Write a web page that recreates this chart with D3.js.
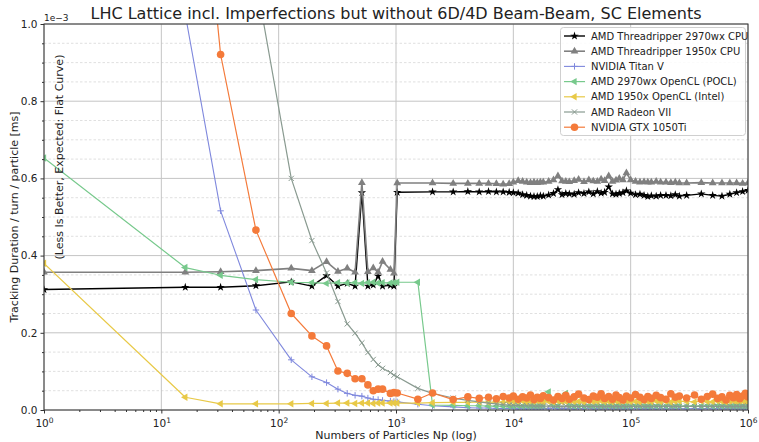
<!DOCTYPE html>
<html>
<head>
<meta charset="utf-8">
<script src="https://cdn.jsdelivr.net/npm/d3@7"></script>
<style>
  body { margin: 0; background: #fff; }
  text { font-family: "DejaVu Sans", sans-serif; fill: #222; }
</style>
</head>
<body>
<svg id="chart" width="759" height="442"></svg>
<script>
// number of particles (shared sample grid), values are in units of 1e-3 ms
const particles = [
  1, 16, 32, 64, 128, 192, 256, 320, 384, 448, 512, 576, 640, 704, 768, 896, 960, 1024,
  1536, 2048, 3072, 4096, 5120, 6144, 7168, 8192, 9216,
  10000, 11000, 12000, 13000, 14000, 15000, 16000, 17000, 18000,
  20000, 22000, 24000, 26000, 28000, 30000,
  33000, 36000, 40000, 44000, 48000, 52000, 56000, 60000,
  65000, 70000, 75000, 80000, 86000, 92000,
  100000, 110000, 120000, 130000, 140000, 150000,
  165000, 180000, 200000, 220000, 240000, 260000,
  300000, 350000, 400000, 450000, 500000, 550000, 600000, 650000, 700000, 750000,
  800000, 850000, 900000, 950000, 1000000
];

const cpu2970 = [
  0.312, 0.318, 0.318, 0.322, 0.332, 0.321, 0.348, 0.321, 0.328, 0.321, 0.563, 0.321, 0.324, 0.347, 0.321, 0.323, 0.321, 0.564,
  null, 0.565, 0.565, 0.566, 0.565, 0.566, 0.565, 0.565, 0.564,
  0.563, 0.562, 0.558, 0.556, 0.554, 0.553, 0.553, 0.555, 0.554,
  0.557, 0.561, 0.571, 0.558, 0.561, 0.560,
  0.559, 0.563, 0.561, 0.565, 0.560, 0.566, 0.562, 0.564,
  0.578, 0.560, 0.559, 0.561, 0.563, 0.568,
  0.562, 0.558, 0.559, 0.556, 0.553, 0.555,
  0.554, 0.556, 0.556, 0.555, 0.558, 0.554,
  0.556, null, 0.560, null, 0.556, null, 0.554, null, 0.559, null,
  0.563, null, 0.566, null, 0.569
];

const cpu1950 = [
  0.357, 0.357, 0.358, 0.361, 0.367, 0.361, 0.384, 0.359, 0.367, 0.357, 0.589, 0.358, 0.368, 0.357, 0.385, 0.364, 0.354, 0.588,
  null, 0.588, 0.587, 0.587, 0.587, 0.587, 0.586, 0.585, 0.586,
  0.590, 0.594, 0.592, 0.590, 0.589, 0.590, 0.589, 0.590, 0.590,
  0.592, 0.596, 0.606, 0.593, 0.592, 0.591,
  0.594, 0.597, 0.591, 0.596, 0.593, 0.592, 0.598, 0.594,
  0.606, 0.592, 0.595, 0.600, 0.596, 0.614,
  0.596, 0.592, 0.590, 0.591, 0.590, 0.590,
  0.592, 0.590, 0.590, 0.589, 0.590, 0.588,
  0.588, null, 0.589, null, 0.588, null, 0.588, null, 0.588, null,
  0.588, null, 0.587, null, 0.588
];

const titanV = [
  null, 1.025, 0.516, 0.259, 0.130, 0.086, 0.071, 0.054, 0.043, 0.038, 0.036, 0.031, 0.028, 0.027, 0.025, 0.023, 0.022, 0.021,
  0.015, 0.011, 0.008, 0.006, 0.005, 0.005, 0.004, 0.004, 0.004,
  0.004, 0.003, 0.004, 0.003, 0.004, 0.003, 0.004, 0.003, 0.004,
  0.003, 0.005, 0.003, 0.004, 0.003, 0.004,
  0.003, 0.004, 0.003, 0.005, 0.003, 0.004, 0.003, 0.004,
  0.003, 0.004, 0.003, 0.004, 0.003, 0.004,
  0.003, 0.004, 0.003, 0.004, 0.003, 0.004,
  0.003, 0.004, 0.003, 0.004, 0.003, 0.004,
  0.003, 0.004, 0.003, 0.004, 0.003, 0.004, 0.003, 0.004, 0.003, 0.004,
  0.003, 0.004, 0.003, 0.004, 0.003
];

const pocl2970 = [
  0.653, 0.369, 0.349, 0.338, 0.331, 0.330, 0.328, 0.330, 0.329, 0.330, 0.328, 0.330, 0.331, 0.329, 0.330, 0.329, 0.330, 0.331,
  0.331, 0.013, 0.012, 0.011, 0.011, 0.010, 0.010, 0.010, 0.010,
  0.010, 0.011, 0.010, 0.011, 0.010, 0.011, 0.010, 0.011, 0.012,
  0.047, 0.012, 0.011, 0.022, 0.043, 0.011,
  0.010, 0.011, 0.010, 0.011, 0.010, 0.011, 0.010, 0.011,
  0.010, 0.011, 0.010, 0.011, 0.010, 0.011,
  0.010, 0.011, 0.010, 0.011, 0.010, 0.011,
  0.010, 0.011, 0.010, 0.011, 0.010, 0.011,
  0.010, 0.011, 0.010, 0.011, 0.010, 0.011, 0.010, 0.011, 0.010, 0.011,
  0.010, 0.011, 0.010, 0.011, 0.010
];

const intel1950 = [
  0.380, 0.033, 0.016, 0.016, 0.016, 0.017, 0.017, 0.018, 0.018, 0.017, 0.018, 0.018, 0.017, 0.018, 0.018, 0.018, 0.018, 0.018,
  0.018, 0.019, 0.020, 0.020, 0.021, 0.020, 0.021, 0.020, 0.021,
  0.022, 0.021, 0.023, 0.020, 0.022, 0.021, 0.023, 0.022, 0.021,
  0.022, 0.020, 0.023, 0.021, 0.022, 0.024,
  0.021, 0.022, 0.020, 0.023, 0.021, 0.022, 0.024, 0.021,
  0.022, 0.020, 0.023, 0.021, 0.022, 0.023,
  0.021, 0.022, 0.020, 0.023, 0.022, 0.021,
  0.023, 0.021, 0.022, 0.020, 0.022, 0.023,
  0.022, 0.021, 0.023, 0.022, 0.021, 0.023, 0.022, 0.020, 0.022, 0.023,
  0.021, 0.022, 0.023, 0.021, 0.022
];

const radeonVII = [
  null, null, null, 1.115, 0.600, 0.439, 0.355, 0.281, 0.223, 0.199, 0.174, 0.149, 0.131, 0.117, 0.108, 0.097, 0.090, 0.086,
  0.056, 0.043, 0.031, 0.025, 0.021, 0.018, 0.016, 0.014, 0.013,
  0.012, 0.012, 0.011, 0.011, 0.011, 0.010, 0.010, 0.010, 0.010,
  0.010, 0.009, 0.010, 0.009, 0.010, 0.009,
  0.010, 0.009, 0.010, 0.009, 0.010, 0.009, 0.010, 0.009,
  0.010, 0.009, 0.010, 0.009, 0.010, 0.009,
  0.010, 0.009, 0.010, 0.009, 0.010, 0.009,
  0.010, 0.009, 0.010, 0.009, 0.010, 0.009,
  0.010, 0.009, 0.010, 0.009, 0.010, 0.009, 0.010, 0.009, 0.010, 0.009,
  0.010, 0.009, 0.010, 0.009, 0.010
];

const gtx1050 = [
  null, 1.850, 0.921, 0.466, 0.250, 0.192, 0.166, 0.101, 0.095, 0.081, 0.081, 0.065, 0.050, 0.054, 0.054, 0.043, 0.045, 0.044,
  0.028, 0.044, 0.027, 0.034, 0.030, 0.033, 0.029, 0.035, 0.031,
  0.036, 0.028, 0.034, 0.031, 0.039, 0.027, 0.033, 0.030, 0.037,
  0.032, 0.026, 0.035, 0.030, 0.038, 0.028,
  0.034, 0.041, 0.031, 0.027, 0.036, 0.033, 0.042, 0.030,
  0.035, 0.028, 0.039, 0.032, 0.026, 0.036,
  0.031, 0.040, 0.033, 0.027, 0.035, 0.030,
  0.038, 0.032, 0.028, 0.042, 0.033, 0.036,
  0.031, 0.039, 0.028, 0.035, 0.041, 0.030, 0.034, 0.026, 0.038, 0.032,
  0.040, 0.029, 0.036, 0.043, 0.034
];

const seriesNames = [
  "AMD Threadripper 2970wx CPU",
  "AMD Threadripper 1950x CPU",
  "NVIDIA Titan V",
  "AMD 2970wx OpenCL (POCL)",
  "AMD 1950x OpenCL (Intel)",
  "AMD Radeon VII",
  "NVIDIA GTX 1050Ti"
];

const xTickExponents = [0, 1, 2, 3, 4, 5, 6];
const yTickValues = [0.0, 0.2, 0.4, 0.6, 0.8, 1.0];

const series = [
  { name: seriesNames[0], values: cpu2970,   color: "#000000", marker: "star",  lw: 1.4 },
  { name: seriesNames[1], values: cpu1950,   color: "#808080", marker: "tri",   lw: 1.6 },
  { name: seriesNames[2], values: titanV,    color: "#7f88dd", marker: "plus",  lw: 1.1 },
  { name: seriesNames[3], values: pocl2970,  color: "#77c98c", marker: "left",  lw: 1.2 },
  { name: seriesNames[4], values: intel1950, color: "#e8c947", marker: "left",  lw: 1.2 },
  { name: seriesNames[5], values: radeonVII, color: "#899a90", marker: "cross", lw: 1.2 },
  { name: seriesNames[6], values: gtx1050,   color: "#f47a3a", marker: "dot",   lw: 1.2 }
];

const svg = d3.select("#chart");
const plotLeft = 44, plotRight = 748, plotTop = 24, plotBottom = 410;

const x = d3.scaleLog().domain([1, 1e6]).range([plotLeft, plotRight]);
const y = d3.scaleLinear().domain([0, 1]).range([plotBottom, plotTop]);

// grid
const grid = svg.append("g");
const yMinor = d3.range(0, 1.0001, 0.05).filter(v => Math.abs(v / 0.2 - Math.round(v / 0.2)) > 1e-6);
grid.selectAll(".ymin").data(yMinor).enter().append("line")
  .attr("x1", plotLeft).attr("x2", plotRight)
  .attr("y1", d => y(d)).attr("y2", d => y(d))
  .attr("stroke", "#d8d8d8").attr("stroke-width", 0.8).attr("stroke-dasharray", "2.5,2");
grid.selectAll(".ymaj").data(yTickValues).enter().append("line")
  .attr("x1", plotLeft).attr("x2", plotRight)
  .attr("y1", d => y(d)).attr("y2", d => y(d))
  .attr("stroke", "#c4c4c4").attr("stroke-width", 1);
grid.selectAll(".xmaj").data(xTickExponents).enter().append("line")
  .attr("x1", d => x(Math.pow(10, d))).attr("x2", d => x(Math.pow(10, d)))
  .attr("y1", plotTop).attr("y2", plotBottom)
  .attr("stroke", "#c4c4c4").attr("stroke-width", 1);

// clip to plot area
svg.append("defs").append("clipPath").attr("id", "plotclip")
  .append("rect").attr("x", plotLeft).attr("y", plotTop)
  .attr("width", plotRight - plotLeft).attr("height", plotBottom - plotTop);

function markerPath(type) {
  switch (type) {
    case "star": return d3.symbol(d3.symbolStar, 22)();
    case "tri": return d3.symbol(d3.symbolTriangle, 26)();
    case "left": return d3.symbol(d3.symbolTriangle, 24)();
    case "plus": return "M-3.2,0H3.2M0,-3.2V3.2";
    case "cross": return "M-2.6,-2.6L2.6,2.6M-2.6,2.6L2.6,-2.6";
    default: return null;
  }
}

function drawMarker(g, s, px, py) {
  if (s.marker === "dot") {
    g.append("circle").attr("cx", px).attr("cy", py).attr("r", 3.8).attr("fill", s.color);
  } else if (s.marker === "plus" || s.marker === "cross") {
    g.append("path").attr("d", markerPath(s.marker))
      .attr("transform", `translate(${px},${py})`)
      .attr("stroke", s.color).attr("stroke-width", 1).attr("fill", "none");
  } else {
    const rot = s.marker === "left" ? " rotate(-90)" : "";
    g.append("path").attr("d", markerPath(s.marker))
      .attr("transform", `translate(${px},${py})${rot}`)
      .attr("fill", s.color);
  }
}

const plot = svg.append("g").attr("clip-path", "url(#plotclip)");
const line = d3.line().x(d => x(d.n)).y(d => y(d.v));

series.forEach(s => {
  const pts = particles.map((n, i) => ({ n: n, v: s.values[i] })).filter(d => d.v != null);
  const g = plot.append("g");
  g.append("path").datum(pts).attr("d", line)
    .attr("fill", "none").attr("stroke", s.color).attr("stroke-width", s.lw)
    .attr("stroke-linejoin", "round");
  pts.forEach(d => drawMarker(g, s, x(d.n), y(d.v)));
});

// axes
const minorX = [];
for (let e = 0; e < 6; e++) for (let k = 2; k < 10; k++) minorX.push(k * Math.pow(10, e));

const xAxis = svg.append("g").attr("transform", `translate(0,${plotBottom})`)
  .call(d3.axisBottom(x).tickValues(xTickExponents.map(e => Math.pow(10, e)))
    .tickSize(3.5).tickPadding(2).tickFormat(() => ""));
xAxis.selectAll(".tick text").each(function (d) {
  const t = d3.select(this).attr("font-size", 10.5).attr("fill", "#222").attr("dy", "1.05em");
  t.append("tspan").text("10");
  t.append("tspan").attr("dy", "-0.45em").attr("font-size", "7.5px").text(Math.round(Math.log10(d)));
});
svg.append("g").attr("transform", `translate(0,${plotBottom})`)
  .call(d3.axisBottom(x).tickValues(minorX).tickSize(2).tickFormat(() => ""));

const yAxis = svg.append("g").attr("transform", `translate(${plotLeft},0)`)
  .call(d3.axisLeft(y).tickValues(yTickValues).tickSize(3.5).tickPadding(3).tickFormat(d3.format(".1f")));
yAxis.selectAll(".tick text").attr("font-size", 10.5).attr("fill", "#222");
svg.append("g").attr("transform", `translate(${plotLeft},0)`)
  .call(d3.axisLeft(y).tickValues(yMinor).tickSize(2).tickFormat(() => ""));

svg.selectAll(".domain").remove();
svg.selectAll(".tick line").attr("stroke", "#333");

// spines
svg.append("rect").attr("x", plotLeft).attr("y", plotTop)
  .attr("width", plotRight - plotLeft).attr("height", plotBottom - plotTop)
  .attr("fill", "none").attr("stroke", "#333").attr("stroke-width", 1);

// texts
svg.append("text").attr("x", (plotLeft + plotRight) / 2).attr("y", 19).attr("text-anchor", "middle")
  .attr("font-size", 16).text("LHC Lattice incl. Imperfections but without 6D/4D Beam-Beam, SC Elements");
svg.append("text").attr("x", plotLeft).attr("y", 21).attr("font-size", 9).text("1e\u22123");
svg.append("text").attr("x", (plotLeft + plotRight) / 2).attr("y", 439).attr("text-anchor", "middle")
  .attr("font-size", 11).text("Numbers of Particles Np (log)");
svg.append("text").attr("transform", "translate(18,217) rotate(-90)").attr("text-anchor", "middle")
  .attr("font-size", 11).text("Tracking Duration / turn / particle [ms]");
svg.append("text").attr("transform", "translate(63,157) rotate(-90)").attr("text-anchor", "middle")
  .attr("font-size", 11).text("(Less Is Better, Expected: Flat Curve)");

// legend
const legend = svg.append("g");
legend.append("rect").attr("x", 560.5).attr("y", 27.5).attr("width", 185).attr("height", 108).attr("rx", 3)
  .attr("fill", "#fff").attr("fill-opacity", 0.85).attr("stroke", "#cfcfcf");
series.forEach((s, i) => {
  const ly = 36 + i * 15.2;
  const g = legend.append("g");
  g.append("line").attr("x1", 564).attr("x2", 585).attr("y1", ly).attr("y2", ly)
    .attr("stroke", s.color).attr("stroke-width", s.lw);
  drawMarker(g, s, 574.5, ly);
  g.append("text").attr("x", 591).attr("y", ly).attr("dy", "0.35em").attr("font-size", 10).text(s.name);
});
</script>
</body>
</html>
